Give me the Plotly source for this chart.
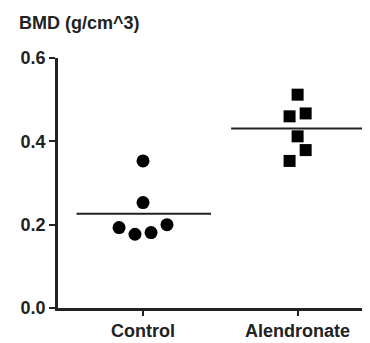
import plotly.graph_objects as go

categories = ["Control", "Alendronate"]
control_values = [0.353, 0.253, 0.193, 0.177, 0.181, 0.200]
alendronate_values = [0.512, 0.460, 0.467, 0.412, 0.379, 0.353]
y_ticks = [0.0, 0.2, 0.4, 0.6]

# horizontal jitter (layout only) in category units
control_offsets = [0.0, 0.0, -0.155, -0.052, 0.052, 0.155]
alen_offsets = [0.0, -0.052, 0.052, 0.0, 0.052, -0.052]

fig = go.Figure()

fig.add_trace(go.Scatter(
    x=[0 + o for o in control_offsets], y=control_values, mode="markers",
    marker=dict(symbol="circle", size=13, color="black"), showlegend=False))
fig.add_trace(go.Scatter(
    x=[1 + o for o in alen_offsets], y=alendronate_values, mode="markers",
    marker=dict(symbol="square", size=12, color="black"), showlegend=False))

for i, vals in enumerate([control_values, alendronate_values]):
    m = sum(vals) / len(vals)
    fig.add_trace(go.Scatter(
        x=[i - 0.43, i + 0.44], y=[m, m], mode="lines",
        line=dict(color="#222", width=2), showlegend=False))

base = dict(family="Liberation Sans, Arial, sans-serif", color="#222", weight="bold")
xfont = dict(base, size=18)
yfont = dict(base, size=18)
tfont = dict(base, size=18)

fig.update_layout(
    width=370, height=343,
    margin=dict(l=50, r=0, t=50, b=43),
    paper_bgcolor="white", plot_bgcolor="white",
    xaxis=dict(range=[-0.55, 1.52], tickvals=[0, 1], ticktext=categories,
               showgrid=False, zeroline=False, showline=True, linecolor="#222",
               linewidth=2.5, ticks="outside", ticklen=5, tickwidth=2,
               tickcolor="#222", tickfont=xfont),
    yaxis=dict(range=[0, 0.6], tickvals=y_ticks, tickformat=".1f",
               showgrid=False, zeroline=False, showline=True, linecolor="#222",
               linewidth=2.5, ticks="outside", ticklen=6, tickwidth=2,
               tickcolor="#222", tickfont=yfont),
)

fig.add_annotation(text="BMD (g/cm^3)", xref="paper", yref="paper",
                   x=-0.128, y=1.0, yshift=47, xanchor="left", yanchor="top",
                   showarrow=False, font=tfont)

fig.write_html("out.html")
